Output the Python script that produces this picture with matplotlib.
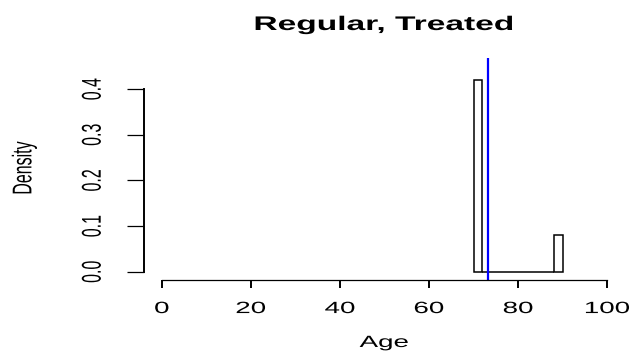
import numpy as np
import matplotlib
matplotlib.use("Agg")
import matplotlib.pyplot as plt
from matplotlib.patheffects import AbstractPathEffect
from matplotlib.transforms import Affine2D

bin_edges = [70, 72, 74, 76, 78, 80, 82, 84, 86, 88, 90]
densities = [0.42, 0, 0, 0, 0, 0, 0, 0, 0, 0.08]
mean_line = 73.2
x_ticks = [0, 20, 40, 60, 80, 100]
y_ticks = [0.0, 0.1, 0.2, 0.3, 0.4]
title = "Regular, Treated"
xlabel = "Age"
ylabel = "Density"


class HStretch(AbstractPathEffect):
    """Widen text horizontally about its own centre (R device look)."""
    def __init__(self, sx):
        super().__init__()
        self.sx = sx

    def draw_path(self, renderer, gc, tpath, affine, rgbFace=None):
        ext = tpath.get_extents(affine)
        cx = 0.5 * (ext.x0 + ext.x1)
        a = affine + Affine2D().translate(-cx, 0).scale(self.sx, 1).translate(cx, 0)
        renderer.draw_path(gc, tpath, a, rgbFace)


SX = 1.7
pe = [HStretch(SX)]

plt.rcParams['font.family'] = ['Liberation Sans', 'DejaVu Sans']

fig = plt.figure(figsize=(6.33, 3.51), dpi=100)
ax = fig.add_axes([144/633, 1-280/351, 481/633, 222/351])

edges = np.array(bin_edges)
ax.bar(edges[:-1], densities, width=np.diff(edges), align='edge',
       fill=False, edgecolor='black', linewidth=1.1)
ax.axvline(mean_line, color='#0000ff', linewidth=1.6)

ax.set_xlim(-4, 104)
ax.set_ylim(-0.018, 0.468)
for s in ['top', 'right']:
    ax.spines[s].set_visible(False)
ax.spines['bottom'].set_bounds(0, 100)
ax.spines['left'].set_bounds(0, 0.4)
ax.spines['bottom'].set_linewidth(0.9)
ax.spines['left'].set_linewidth(1.4)

ax.set_xticks(x_ticks)
ax.set_xticklabels([str(t) for t in x_ticks], fontsize=11.75,
                   va='baseline', path_effects=pe)
ax.set_yticks(y_ticks)
ax.set_yticklabels([f"{t:.1f}" for t in y_ticks], rotation=90, va='center',
                   ha='center', fontsize=11.5, path_effects=pe)
ax.tick_params(axis='x', length=5.8, width=1.4, direction='out', pad=18)
ax.tick_params(axis='y', length=12.2, width=0.9, direction='out', pad=25)

fig.text(384/633, 1-30/351, title, ha='center', va='baseline',
         fontsize=14.2, fontweight='bold', path_effects=pe)
fig.text(384/633, 1-347/351, xlabel, ha='center', va='baseline',
         fontsize=11.75, path_effects=pe)
fig.text(24/633, 1-168/351, ylabel, ha='center', va='center', rotation=90,
         fontsize=11.5, path_effects=pe)

fig.savefig("out.png", dpi=100)
